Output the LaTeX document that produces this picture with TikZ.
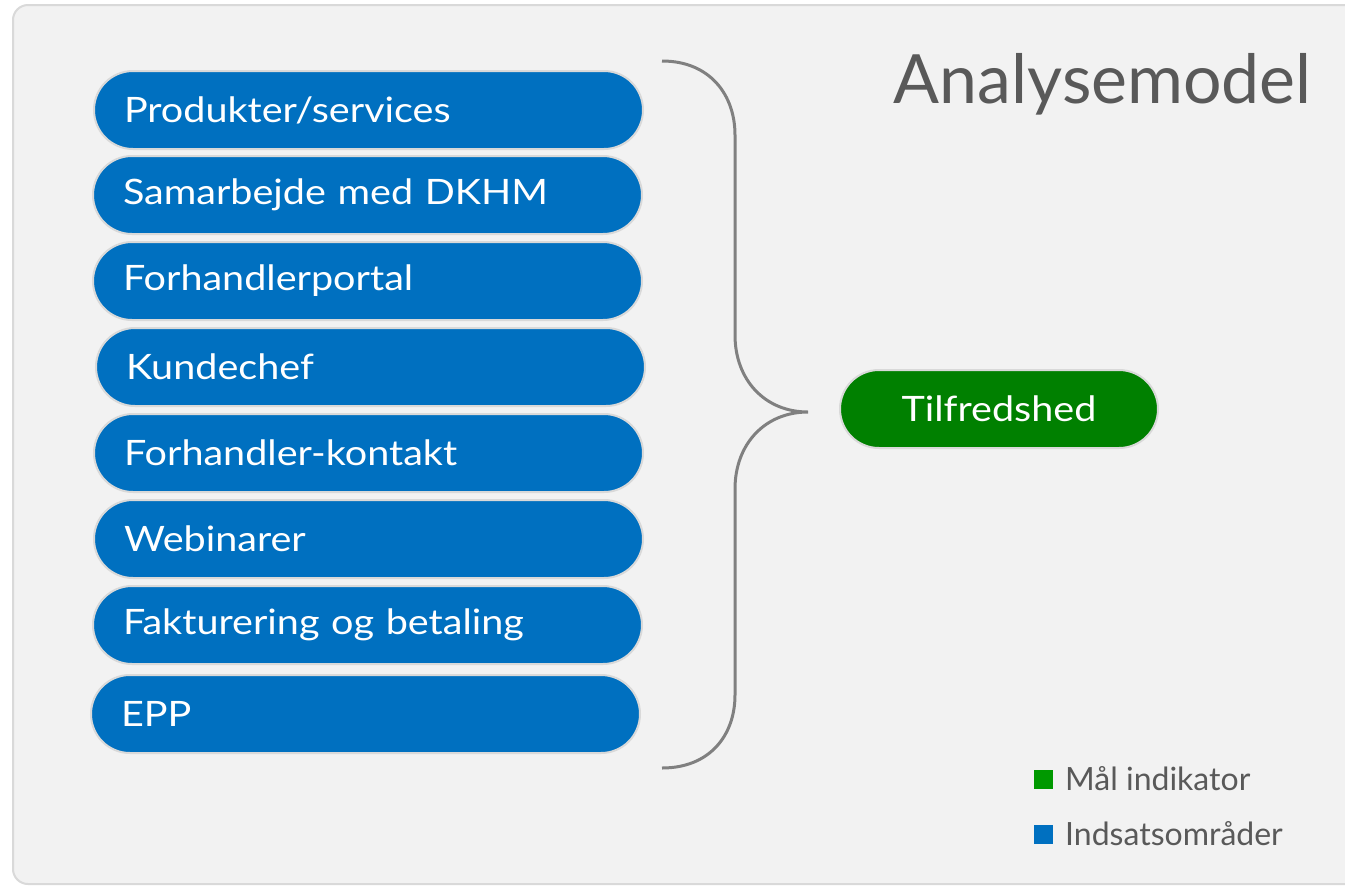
\documentclass[tikz,border=0pt]{standalone}
\usepackage{fontspec}
\setmainfont{Lato}
\newfontfamily\pillfont[FakeStretch=1.13]{Lato}
\definecolor{bg}{HTML}{F2F2F2}
\definecolor{bgline}{HTML}{D9D9D9}
\definecolor{pillblue}{HTML}{0070C0}
\definecolor{pillgreen}{HTML}{008000}
\definecolor{leggreen}{HTML}{009900}
\definecolor{txtgray}{HTML}{595959}
\definecolor{bracegray}{HTML}{808080}
\tikzset{
  pill/.style={draw=bgline, line width=2pt, fill=pillblue, rounded corners=39pt,
    minimum width=549pt, minimum height=78pt, text width=489pt, inner xsep=30pt,
    align=left, text=white, font=\pillfont\fontsize{35}{40}\selectfont, anchor=west},
  goal/.style={draw=bgline, line width=2pt, fill=pillgreen, rounded corners=39pt,
    minimum width=318pt, minimum height=78pt, text=white, font=\pillfont\fontsize{35}{40}\selectfont},
  brace/.style={draw=bracegray, line width=3pt},
  legbox/.style={minimum size=19pt, inner sep=0pt},
  legtext/.style={text=txtgray, font=\fontsize{32}{36}\selectfont, anchor=west, inner sep=0pt}
}
\begin{document}
\begin{tikzpicture}[x=1pt,y=-1pt]
\useasboundingbox (0,0) rectangle (1345,887);
\fill[white] (0,0) rectangle (1345,887);
\draw[bgline, fill=bg, line width=2pt, rounded corners=15pt] (13,5) rectangle (1370,884);

\node[pill] (p1) at (93,110) {Produkter/services};
\node[pill] (p2) at (92,195) {Samarbejde med DKHM};
\node[pill] (p3) at (92,281) {Forhandlerportal};
\node[pill] (p4) at (95,367) {Kundechef};
\node[pill] (p5) at (93,453) {Forhandler-kontakt};
\node[pill] (p6) at (93,539) {Webinarer};
\node[pill] (p7) at (92,625) {Fakturering og betaling};
\node[pill] (p8) at (90,714) {EPP};

\node[goal] (goal) at (999,409) {Tilfredshed};

\coordinate (btop) at (662,61);
\coordinate (btip) at (808,412);
\coordinate (bbot) at (662,768);
\draw[brace] (btop) .. controls (710,61) and (735,95) .. (735,135)
  -- (735,335) .. controls (735,380) and (765,412) .. (btip)
  .. controls (765,412) and (735,444) .. (735,489)
  -- (735,695) .. controls (735,735) and (710,768) .. (bbot);

\node[text=txtgray, font=\fontsize{68}{78}\selectfont, anchor=base east, inner sep=0pt] (title) at (1312,103) {Analysemodel};

\node[legbox, fill=leggreen] (lg) at (1043.5,779) {};
\node[legtext] (lgt) at (1065,779) {Mål indikator};
\node[legbox, fill=pillblue] (lb) at (1043.5,834) {};
\node[legtext] (lbt) at (1065,834) {Indsatsområder};
\end{tikzpicture}
\end{document}
